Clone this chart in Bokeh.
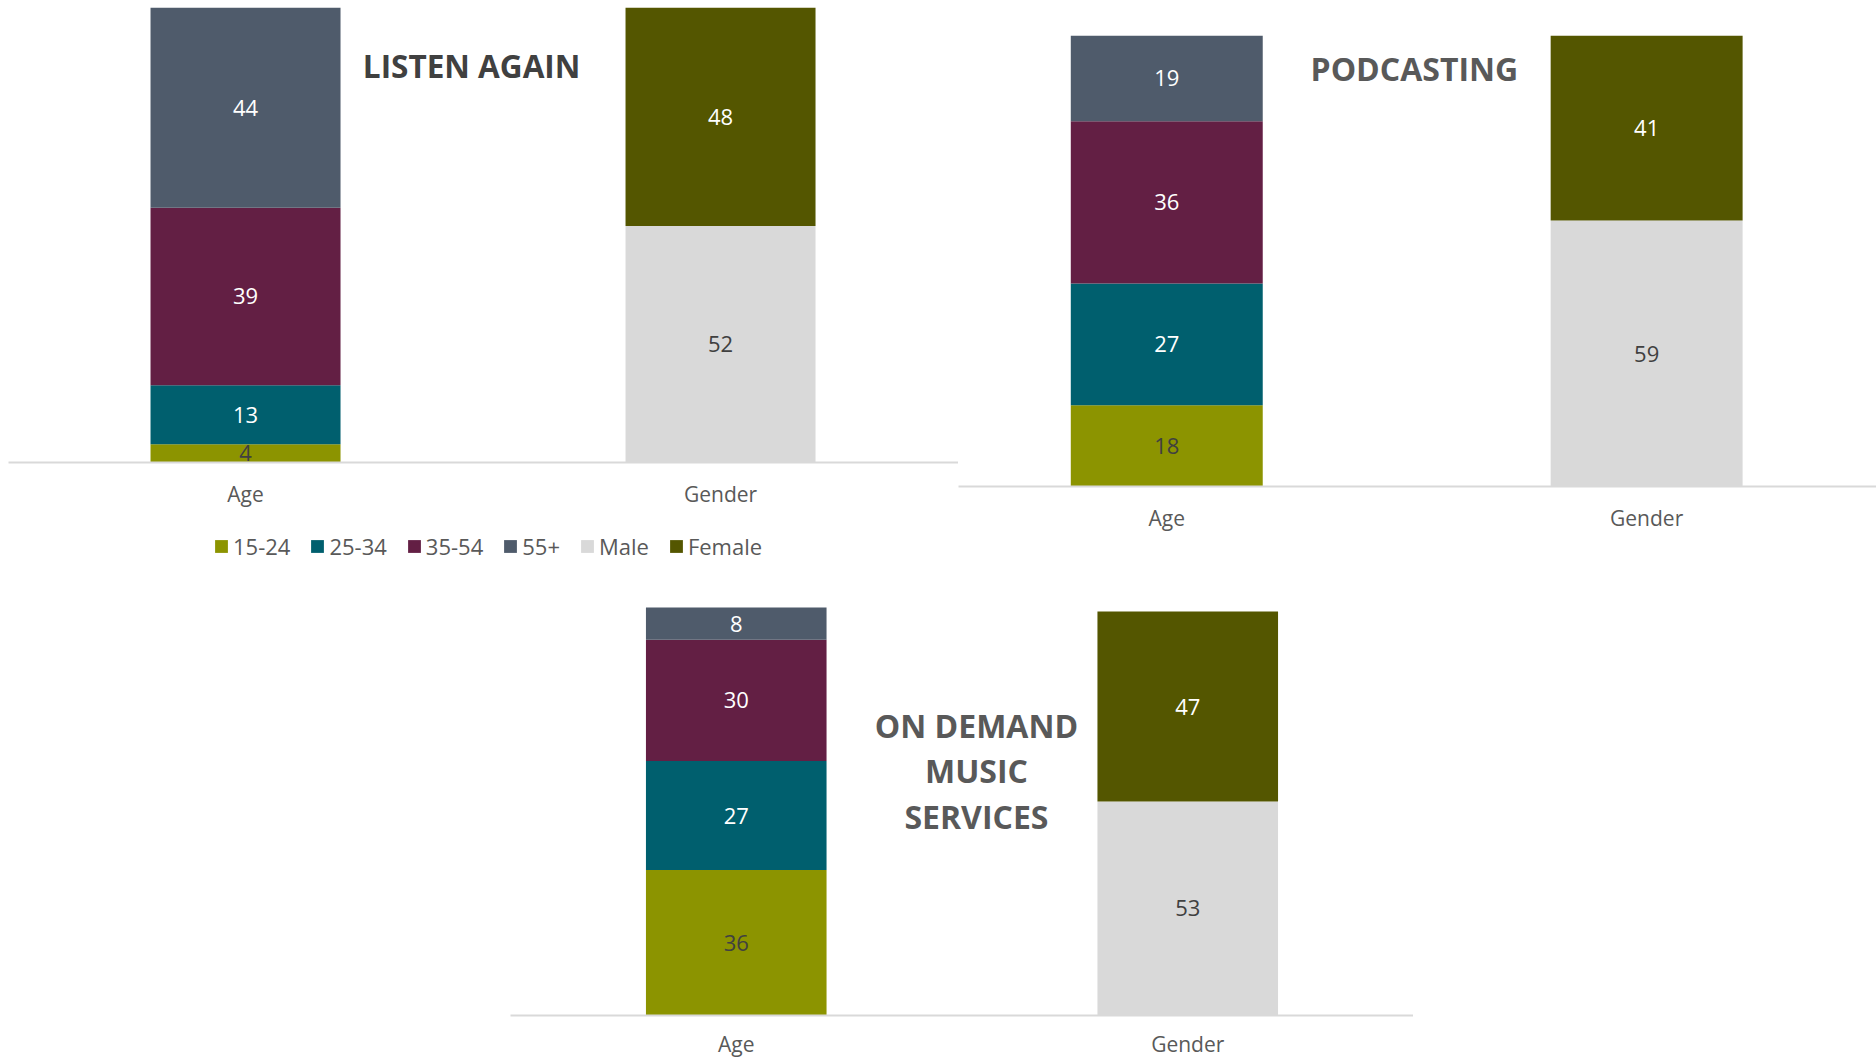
from bokeh.plotting import figure
from bokeh.models import ColumnDataSource, Range1d, LinearAxis, FixedTicker, Label, Legend, LegendItem, Spacer
from bokeh.layouts import row, column
from bokeh.embed import file_html
from bokeh.resources import INLINE
from bokeh.core.properties import value

# ---------------- data ----------------
groups = ["Age", "Gender"]
series = ["15-24", "25-34", "35-54", "55+", "Male", "Female"]
series_group = ["Age", "Age", "Age", "Age", "Gender", "Gender"]
colors = ["#8C9400", "#005F6E", "#631F44", "#4F5B6B", "#D9D9D9", "#545600"]
label_colors = ["#404040", "#FFFFFF", "#FFFFFF", "#FFFFFF", "#404040", "#FFFFFF"]

listen_again = [4, 13, 39, 44, 52, 48]
podcasting = [18, 27, 36, 19, 59, 41]
on_demand = [36, 27, 30, 8, 53, 47]

titles = {
    "listen": ["LISTEN AGAIN"],
    "podcast": ["PODCASTING"],
    "ondemand": ["ON DEMAND", "MUSIC", "SERVICES"],
}

FONT = "Open Sans"


def panel(vals, title_lines, title_x, title_ys, title_color, frame_w, frame_h,
          x_start, x_end, y_end, standoff=17, border_left=0, border_top=0,
          border_bottom=50, title_size="32px"):
    p = figure(frame_width=frame_w, frame_height=frame_h,
               x_range=Range1d(x_start, x_end), y_range=Range1d(0, y_end),
               output_backend="svg", toolbar_location=None,
               x_axis_location=None, y_axis_location=None,
               min_border=0, min_border_left=border_left, min_border_top=border_top,
               min_border_bottom=border_bottom,
               outline_line_color=None, background_fill_color="white",
               border_fill_color="white")
    p.grid.visible = False

    xs = list(range(len(groups)))
    data = {"x": xs}
    for s, g, v in zip(series, series_group, vals):
        data[s] = [v if gg == g else 0 for gg in groups]
    src = ColumnDataSource(data)
    p.vbar_stack(series, x="x", width=0.4, color=colors, line_color=None, source=src)

    # segment labels
    lx, ly, lt, lc = [], [], [], []
    bottoms = {g: 0 for g in groups}
    for s, g, v, tc in zip(series, series_group, vals, label_colors):
        lx.append(groups.index(g))
        ly.append(bottoms[g] + v / 2)
        bottoms[g] += v
        lt.append(str(v))
        lc.append(tc)
    lsrc = ColumnDataSource(dict(x=lx, y=ly, text=lt, color=lc))
    p.text(x="x", y="y", text="text", text_color="color", source=lsrc,
           text_align="center", text_baseline="middle",
           text_font=value(FONT), text_font_size="22px")

    ax = LinearAxis(ticker=FixedTicker(ticks=xs),
                    major_label_overrides={i: g for i, g in enumerate(groups)})
    ax.axis_line_color = "#D9D9D9"
    ax.axis_line_width = 2
    ax.major_tick_line_color = None
    ax.minor_tick_line_color = None
    ax.major_tick_out = 0
    ax.major_tick_in = 0
    ax.major_label_standoff = standoff
    ax.major_label_text_font = FONT
    ax.major_label_text_font_size = "21px"
    ax.major_label_text_color = "#595959"
    p.add_layout(ax, "below")

    for line, ty in zip(title_lines, title_ys):
        p.add_layout(Label(x=title_x, y=ty, text=line, text_align="center",
                           text_baseline="middle", text_font=FONT,
                           text_font_style="bold", text_font_size=title_size,
                           text_color=title_color))
    return p


p1 = panel(listen_again, titles["listen"], 0.476, [87.3], "#404040",
           950, 455, -0.499, 1.501, 100, border_left=8, border_top=7,
           border_bottom=50, title_size="31.5px")
p2 = panel(podcasting, titles["podcast"], 0.516, [92.7], "#595959",
           918, 486, -0.434, 1.479, 107.8, border_bottom=50)
p3 = panel(on_demand, titles["ondemand"], 0.532, [71.8, 60.6, 49.3], "#595959",
           903, 435, -0.5, 1.5, 107.7, standoff=14, border_bottom=44)

# legend figure (legend of the top-left panel); zero-height proxies give the swatches
pl = figure(width=958, height=68, x_range=Range1d(0, 1), y_range=Range1d(0, 1),
            output_backend="svg", toolbar_location=None,
            x_axis_location=None, y_axis_location=None,
            min_border=0, min_border_left=8, outline_line_color=None)
pl.grid.visible = False
items = []
for s, c in zip(series, colors):
    r = pl.vbar(x=[0.5], top=[0], bottom=[0], width=0.01, color=c, line_color=None)
    items.append(LegendItem(label=s, renderers=[r]))
lg = Legend(items=items, orientation="horizontal", location=(205, 19),
            label_text_font=FONT, label_text_font_size="22px",
            label_text_color="#595959", glyph_width=16, glyph_height=16,
            label_standoff=4, spacing=19, padding=0, margin=0,
            border_line_color=None, background_fill_alpha=0)
pl.add_layout(lg)

bottom_line = figure(width=1876, height=2, output_backend="svg", toolbar_location=None,
                     x_axis_location=None, y_axis_location=None, min_border=0,
                     outline_line_color=None, background_fill_color="#4E1B3C",
                     border_fill_color="#4E1B3C")
bottom_line.grid.visible = False

layout = column(row(column(p1, pl), p2), row(Spacer(width=510, height=10), p3), bottom_line)

open("out.html", "w").write(file_html(layout, INLINE))
